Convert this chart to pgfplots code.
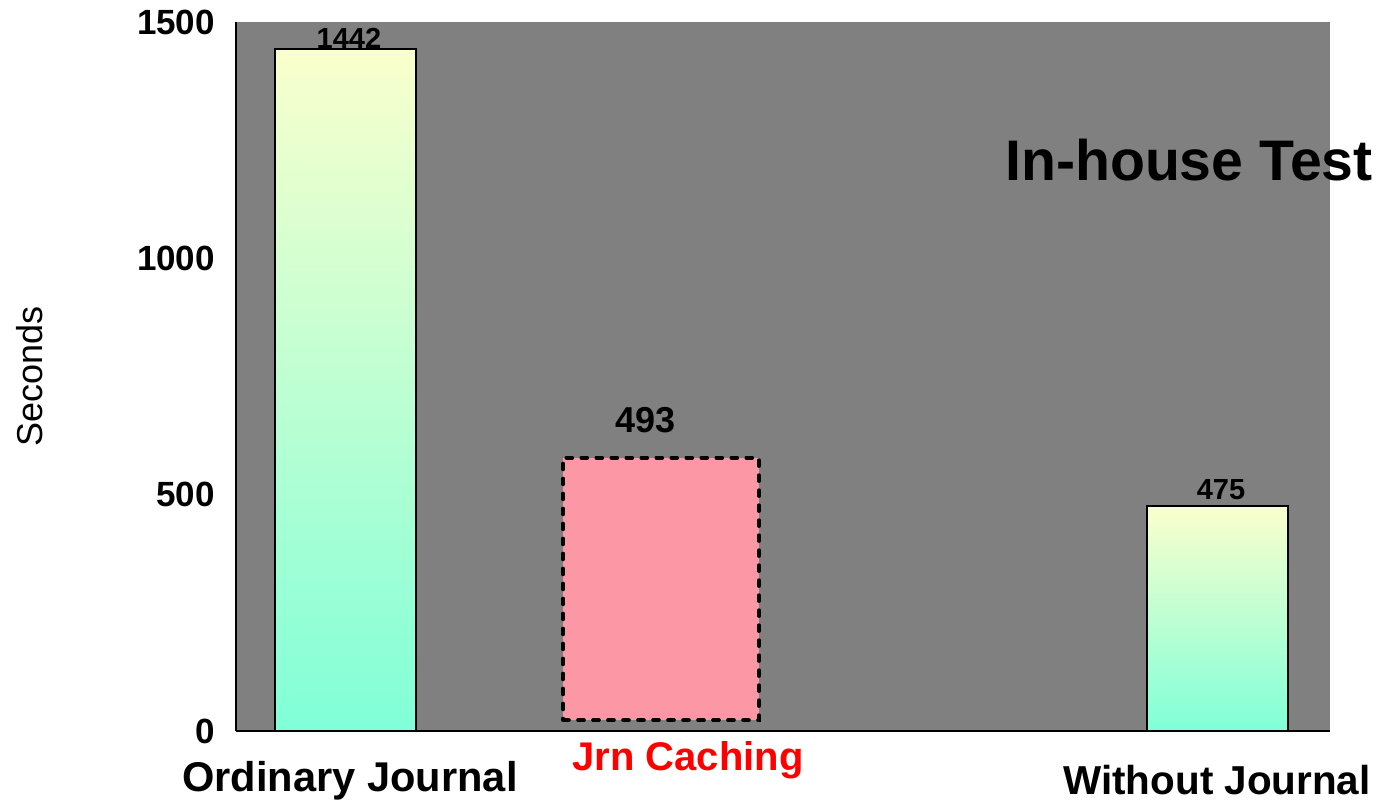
\documentclass[border=0pt]{standalone}
\usepackage{fontspec}
\setmainfont{Liberation Sans}
\usepackage{pgfplots}
\pgfplotsset{compat=1.18}
\definecolor{bggray}{RGB}{128,128,128}
\definecolor{bartop}{RGB}{250,255,205}
\definecolor{barbot}{RGB}{128,255,216}
\definecolor{pinkbox}{RGB}{252,152,166}
\begin{document}
\begin{tikzpicture}
\begin{axis}[
  name=ax,
  scale only axis, width=547pt, height=354.5pt,
  xmin=0, xmax=10.94, ymin=0, ymax=1500,
  axis x line*=bottom, axis y line*=left,
  axis line style={line width=1pt, -},
  axis background/.style={fill=bggray},
  xtick=\empty,
  ytick={0,500,1000,1500},
  major tick length=0pt,
  yticklabel style={font=\fontsize{17.5}{20}\selectfont\bfseries, xshift=-7pt},
  /pgf/number format/assume math mode=true,
  /pgf/number format/1000 sep={},
  clip=false,
]
\node[font=\fontsize{14.5}{17}\selectfont\bfseries] at (axis cs:1.13,1466) {1442};
\addplot[ybar, bar width=1.41, draw=black, line width=1pt, top color=bartop, bottom color=barbot]
  coordinates {(1.095,1442)};
\addplot[ybar, bar width=1.41, draw=black, line width=1pt, top color=bartop, bottom color=barbot]
  coordinates {(9.815,475)};
\addplot[fill=pinkbox, draw=black, line width=1.8pt, line cap=round, dash pattern=on 3pt off 4.5pt]
  coordinates {(3.27,23) (5.23,23) (5.23,578) (3.27,578)} -- cycle;
\node[font=\fontsize{18}{21}\selectfont\bfseries] at (axis cs:4.10,658) {493};
\node[font=\fontsize{14.5}{17}\selectfont\bfseries] at (axis cs:9.85,510) {475};
\node[font=\fontsize{28.6}{33}\selectfont\bfseries] at (axis cs:9.53,1208) {In-house Test};
\node[font=\fontsize{20.8}{24}\selectfont\bfseries] at (axis cs:1.14,-105) {Ordinary Journal};
\node[font=\fontsize{20}{24}\selectfont\bfseries, text=red] at (axis cs:4.52,-62) {Jrn Caching};
\node[font=\fontsize{20.2}{24}\selectfont\bfseries] at (axis cs:9.81,-103) {Without Journal};
\node[font=\fontsize{18}{21}\selectfont, rotate=90] at (axis description cs:0,0.5) [yshift=103pt] {Seconds};
\end{axis}
\pgfresetboundingbox
\path ([xshift=-118pt,yshift=-35pt]ax.south west) rectangle ([xshift=29.5pt,yshift=11pt]ax.north east);
\end{tikzpicture}
\end{document}
